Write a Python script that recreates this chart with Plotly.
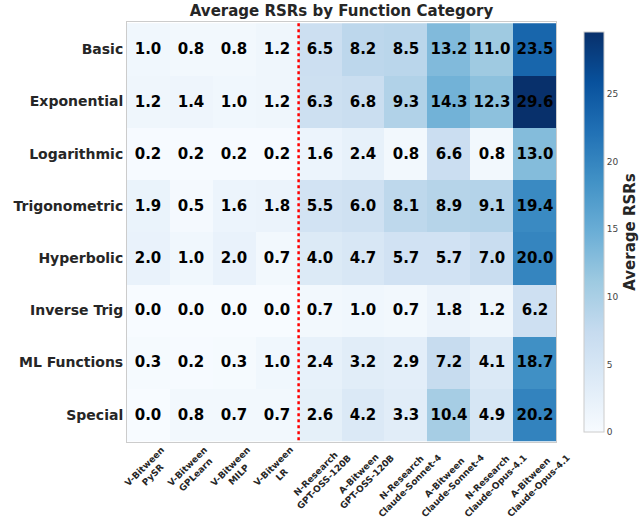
import plotly.graph_objects as go

categories = ["Basic", "Exponential", "Logarithmic", "Trigonometric", "Hyperbolic",
              "Inverse Trig", "ML Functions", "Special"]
methods = ["V-Bitween<br>PySR", "V-Bitween<br>GPLearn", "V-Bitween<br>MILP", "V-Bitween<br>LR",
           "N-Research<br>GPT-OSS-120B", "A-Bitween<br>GPT-OSS-120B",
           "N-Research<br>Claude-Sonnet-4", "A-Bitween<br>Claude-Sonnet-4",
           "N-Research<br>Claude-Opus-4.1", "A-Bitween<br>Claude-Opus-4.1"]
basic = [1.0, 0.8, 0.8, 1.2, 6.5, 8.2, 8.5, 13.2, 11.0, 23.5]
exponential = [1.2, 1.4, 1.0, 1.2, 6.3, 6.8, 9.3, 14.3, 12.3, 29.6]
logarithmic = [0.2, 0.2, 0.2, 0.2, 1.6, 2.4, 0.8, 6.6, 0.8, 13.0]
trigonometric = [1.9, 0.5, 1.6, 1.8, 5.5, 6.0, 8.1, 8.9, 9.1, 19.4]
hyperbolic = [2.0, 1.0, 2.0, 0.7, 4.0, 4.7, 5.7, 5.7, 7.0, 20.0]
inverse_trig = [0.0, 0.0, 0.0, 0.0, 0.7, 1.0, 0.7, 1.8, 1.2, 6.2]
ml_functions = [0.3, 0.2, 0.3, 1.0, 2.4, 3.2, 2.9, 7.2, 4.1, 18.7]
special = [0.0, 0.8, 0.7, 0.7, 2.6, 4.2, 3.3, 10.4, 4.9, 20.2]
z = [basic, exponential, logarithmic, trigonometric, hyperbolic, inverse_trig, ml_functions, special]

blues = [[0.0, "#f7fbff"], [0.125, "#deebf7"], [0.25, "#c6dbef"], [0.375, "#9ecae1"],
         [0.5, "#6baed6"], [0.625, "#4292c6"], [0.75, "#2171b5"], [0.875, "#08519c"],
         [1.0, "#08306b"]]

fig = go.Figure(go.Heatmap(
    z=z, x=list(range(len(methods))), y=list(range(len(categories))),
    colorscale=blues, zmin=0, zmax=29.6,
    texttemplate="<b>%{z:.1f}</b>",
    textfont=dict(family="DejaVu Sans", size=15, color="black"),
    colorbar=dict(
        x=1.042, xanchor="left", xref="paper", y=0.5, yanchor="middle", len=1.0, lenmode="fraction",
        thickness=20, outlinewidth=1, outlinecolor="#cccccc",
        tickvals=[0, 5, 10, 15, 20, 25], ticks="", ticklen=0,
        tickfont=dict(family="DejaVu Sans", size=9, color="#444444"),
        title=dict(text="<b>Average RSRs</b>", side="right",
                   font=dict(family="DejaVu Sans", size=15, color="#262626")),
    ),
    hoverongaps=False,
))

fig.add_shape(type="line", x0=3.5, x1=3.5, y0=-0.5, y1=7.5, xref="x", yref="y",
              line=dict(color="red", width=2.5, dash="dot"))

# x tick labels: rotated, lines centred on each other, block centred under the column
for i, m in enumerate(methods):
    fig.add_annotation(
        x=i, xref="x", y=0, yref="paper", yshift=0, xshift=0,
        xanchor="center", yanchor="top", showarrow=False,
        text=f"<b>{m}</b>", textangle=-45, align="center",
        font=dict(family="DejaVu Sans", size=9, color="#262626"),
    )

fig.update_xaxes(
    tickvals=list(range(len(methods))), showticklabels=False,
    range=[-0.5, 9.5], showgrid=False, zeroline=False, automargin=False,
    showline=True, linecolor="#cccccc", mirror=True, ticks="",
)
fig.update_yaxes(
    tickvals=list(range(len(categories))), ticktext=[f"<b>{c}</b>" for c in categories],
    tickfont=dict(family="DejaVu Sans", size=14, color="#262626"),
    autorange="reversed", showgrid=False, zeroline=False, automargin=False,
    showline=True, linecolor="#cccccc", mirror=True, ticks="", ticklen=0,
)

fig.update_layout(
    width=644, height=518,
    margin=dict(l=127, r=88, t=22, b=76, autoexpand=False),
    paper_bgcolor="white", plot_bgcolor="white",
    title=dict(text="<b>Average RSRs by Function Category</b>", x=(127 + 556) / 2 / 644,
               xanchor="center", y=1 - 11 / 518, yanchor="middle",
               font=dict(family="DejaVu Sans", size=15, color="#262626")),
)

fig.write_html("out.html", config={"displayModeBar": False},
               post_script="document.body.style.margin='0';")
